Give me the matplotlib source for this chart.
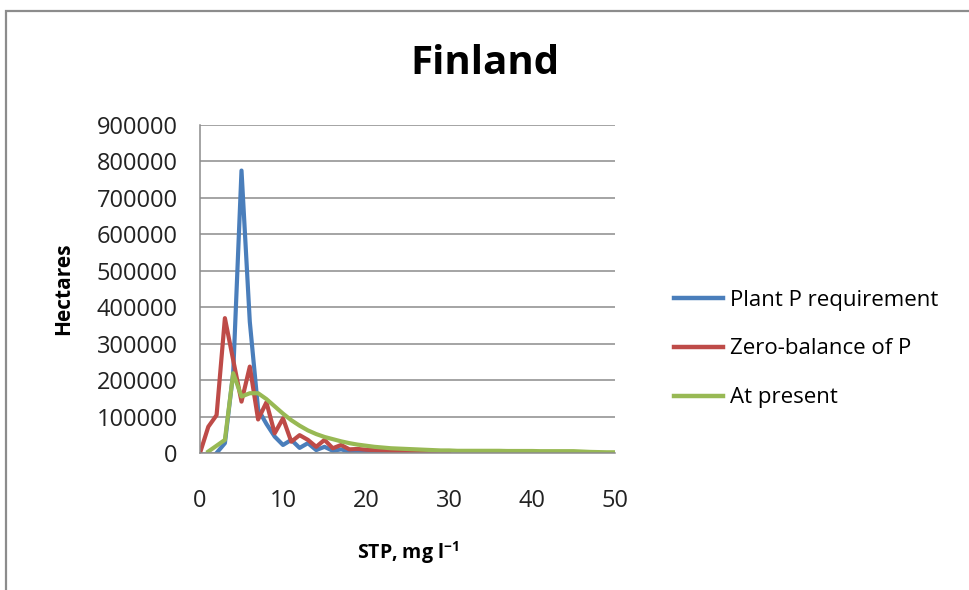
import numpy as np
import matplotlib.pyplot as plt
from matplotlib.patches import Rectangle

plt.rcParams['font.family'] = ['Open Sans', 'DejaVu Sans']
plt.rcParams['mathtext.fontset'] = 'custom'
plt.rcParams['mathtext.rm'] = 'Open Sans'
plt.rcParams['mathtext.bf'] = 'Open Sans:bold'

# STP classes (mg/l) and hectares per class
stp_plant = [2, 3, 4, 5, 6, 7, 8, 9, 10, 11, 12, 13, 14, 15, 16, 17, 18, 19, 20,
             21, 22, 23, 24, 25, 26, 27, 28, 29, 30]
plant_req = [0, 27000, 220000, 775000, 360000, 120000, 80000, 45000, 22000, 36000,
             14000, 27000, 8000, 17000, 6000, 10000, 4000, 5000, 2000,
             3000, 1500, 2000, 1000, 1000, 500, 500, 0, 0, 0]

stp_zero = list(range(0, 31))
zero_bal = [0, 72000, 104000, 370000, 255000, 141000, 237000, 92000, 139000, 54000,
            95000, 31000, 49000, 36000, 17000, 36000, 13000, 22000, 10000, 11000,
            9000, 8000, 7000, 6000, 5000, 4000, 3000, 2000, 1000, 500, 0]

stp_now = list(range(1, 51))
at_present = [4000, 20000, 36000, 219000, 155000, 164000, 164000, 148000, 128000, 108000,
              90000, 75000, 62000, 52000, 44000, 38000, 32000, 27000, 23000, 20000,
              17000, 15000, 13000, 12000, 11000, 10000, 9000, 8000, 7000, 7000,
              6000, 6000, 6000, 6000, 6000, 6000, 5500, 5500, 5500, 5500,
              5000, 5000, 5000, 5000, 5000, 4000, 3000, 2500, 2000, 2000]

series_labels = ['Plant P requirement', 'Zero-balance of P', 'At present']
colors = ['#4A7EBB', '#BE4B48', '#98B954']

fig = plt.figure(figsize=(9.7, 5.9), dpi=100)
ax = fig.add_axes([200 / 970, 1 - 453 / 590, 415 / 970, 328 / 590])

ax.plot(stp_plant, plant_req, color=colors[0], lw=3, label=series_labels[0])
ax.plot(stp_zero, zero_bal, color=colors[1], lw=3, label=series_labels[1])
ax.plot(stp_now, at_present, color=colors[2], lw=3, label=series_labels[2])

ax.set_xlim(0, 50)
ax.set_ylim(0, 900000)
ax.set_xticks(np.arange(0, 51, 10))
ax.set_yticks(np.arange(0, 900001, 100000))
ax.set_yticklabels([str(v) for v in range(0, 900001, 100000)])
ax.grid(axis='y', color='#8c8c8c', lw=1.1)
ax.set_axisbelow(True)
for side in ['top', 'right']:
    ax.spines[side].set_visible(False)
for side in ['left', 'bottom']:
    ax.spines[side].set_color('#8c8c8c')
    ax.spines[side].set_linewidth(1.1)
ax.tick_params(axis='y', length=0, pad=16, labelsize=17, colors='#222222')
ax.tick_params(axis='x', length=0, pad=26, labelsize=17, colors='#222222')

ax.set_ylabel('Hectares', fontsize=15, fontweight='bold', labelpad=16)
ax.set_xlabel(r'STP, mg l$^{\mathbf{-1}}$', fontsize=14, fontweight='bold', labelpad=19)

fig.text(0.5, 1 - 64 / 590, 'Finland', fontsize=29, fontweight='bold',
         ha='center', va='center')

fig.legend(loc='center left', bbox_to_anchor=(654 / 970, 1 - 349 / 590),
           frameon=False, fontsize=16, handlelength=2.2, handletextpad=0.3,
           labelspacing=1.25)
for line in fig.legends[0].get_lines():
    line.set_linewidth(3.2)

# chart border (left and top edges visible in the crop)
fig.add_artist(Rectangle((6 / 970, -0.1), 1.2, 1 - 11 / 590 + 0.1,
                         transform=fig.transFigure, fill=False,
                         edgecolor='#8c8c8c', lw=1.6))

fig.savefig('out.png', dpi=100)
